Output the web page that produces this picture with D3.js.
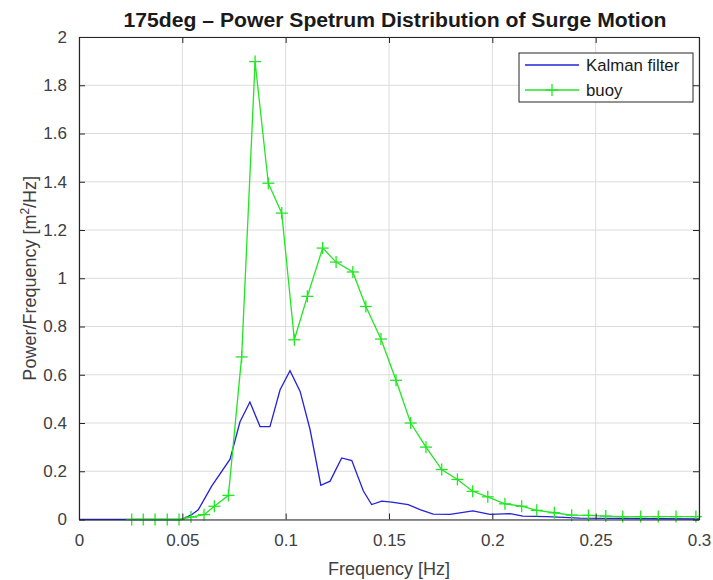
<!DOCTYPE html>
<html><head><meta charset="utf-8">
<script src="https://cdn.jsdelivr.net/npm/d3@7"></script>
<style>body{margin:0;background:#fff;} svg{display:block;}</style>
</head><body>
<svg id="chart" width="713" height="580"></svg>
<script>
const titleText = "175deg \u2013 Power Spetrum Distribution of Surge Motion";
const xTicks = [0, 0.05, 0.1, 0.15, 0.2, 0.25, 0.3];
const xTickLabels = ["0", "0.05", "0.1", "0.15", "0.2", "0.25", "0.3"];
const yTicks = [0, 0.2, 0.4, 0.6, 0.8, 1, 1.2, 1.4, 1.6, 1.8, 2];
const yTickLabels = ["0", "0.2", "0.4", "0.6", "0.8", "1", "1.2", "1.4", "1.6", "1.8", "2"];
const seriesNames = ["Kalman filter", "buoy"];

const kalmanFreq = [0, 0.0497, 0.0545, 0.0577, 0.0642, 0.0731, 0.0779, 0.0827, 0.0876, 0.0924, 0.0973, 0.1021, 0.107, 0.1118, 0.117, 0.1215, 0.1271, 0.132, 0.1376, 0.1416, 0.1465, 0.1513, 0.1593, 0.165, 0.1714, 0.1795, 0.1906, 0.1989, 0.2086, 0.2148, 0.2264, 0.2424, 0.3];
const kalmanVal = [0, 0, 0.02, 0.04, 0.138, 0.25, 0.405, 0.487, 0.385, 0.385, 0.538, 0.617, 0.531, 0.373, 0.142, 0.159, 0.255, 0.244, 0.118, 0.062, 0.076, 0.072, 0.062, 0.041, 0.022, 0.021, 0.036, 0.021, 0.024, 0.014, 0.012, 0.006, 0.002];

const buoyFreq = [0.0255, 0.0311, 0.0368, 0.0427, 0.0484, 0.0542, 0.0605, 0.0655, 0.0723, 0.0787, 0.0852, 0.0916, 0.0981, 0.1042, 0.1105, 0.1179, 0.1244, 0.1325, 0.1388, 0.1461, 0.1534, 0.1605, 0.1679, 0.1755, 0.1831, 0.1905, 0.1978, 0.2061, 0.2142, 0.2215, 0.23, 0.2384, 0.2465, 0.2549, 0.2631, 0.2718, 0.2803, 0.2889, 0.2985];
const buoyVal = [0, 0, 0, 0, 0, 0.01, 0.02, 0.055, 0.10, 0.674, 1.898, 1.394, 1.27, 0.745, 0.925, 1.125, 1.067, 1.026, 0.883, 0.748, 0.577, 0.40, 0.30, 0.207, 0.166, 0.117, 0.094, 0.065, 0.055, 0.038, 0.028, 0.018, 0.017, 0.014, 0.012, 0.012, 0.012, 0.012, 0.012];

const kalman = kalmanFreq.map((f, i) => [f, kalmanVal[i]]);
const buoy = buoyFreq.map((f, i) => [f, buoyVal[i]]);

const svg = d3.select("#chart");
const L = 79, R = 699, T = 37, B = 519.5;
const x = d3.scaleLinear().domain([0, 0.3]).range([L, R]);
const y = d3.scaleLinear().domain([0, 2]).range([B, T]);
const font = "Helvetica, Arial, 'Liberation Sans', sans-serif";
const axisColor = "#262626";
const textColor = "#404040";

// grid
const grid = svg.append("g");
grid.selectAll("line.gx").data(xTicks).enter().append("line")
  .attr("x1", d => x(d)).attr("x2", d => x(d)).attr("y1", T).attr("y2", B)
  .attr("stroke", "#dcdcdc").attr("stroke-width", 1);
grid.selectAll("line.gy").data(yTicks).enter().append("line")
  .attr("y1", d => y(d)).attr("y2", d => y(d)).attr("x1", L).attr("x2", R)
  .attr("stroke", "#dcdcdc").attr("stroke-width", 1);

// series
const line = d3.line().x(d => x(d[0])).y(d => y(d[1]));
svg.append("path").datum(kalman).attr("d", line)
  .attr("fill", "none").attr("stroke", "#2222d8").attr("stroke-width", 1.3);
svg.append("path").datum(buoy).attr("d", line)
  .attr("fill", "none").attr("stroke", "#22e622").attr("stroke-width", 1.3);
const ms = 6;
const mk = svg.append("g").attr("stroke", "#22e622").attr("stroke-width", 1.3);
buoy.forEach(d => {
  mk.append("line").attr("x1", x(d[0]) - ms).attr("x2", x(d[0]) + ms).attr("y1", y(d[1])).attr("y2", y(d[1]));
  mk.append("line").attr("x1", x(d[0])).attr("x2", x(d[0])).attr("y1", y(d[1]) - ms).attr("y2", y(d[1]) + ms);
});

// axes (ticks inside)
const tickLen = 6;
const xAxisB = d3.axisBottom(x).tickValues(xTicks).tickFormat((d, i) => xTickLabels[i]).tickSizeInner(-tickLen).tickSizeOuter(0).tickPadding(14);
const xAxisT = d3.axisTop(x).tickValues(xTicks).tickFormat("").tickSizeInner(-tickLen).tickSizeOuter(0);
const yAxisL = d3.axisLeft(y).tickValues(yTicks).tickFormat((d, i) => yTickLabels[i]).tickSizeInner(-tickLen).tickSizeOuter(0).tickPadding(12);
const yAxisR = d3.axisRight(y).tickValues(yTicks).tickFormat("").tickSizeInner(-tickLen).tickSizeOuter(0);
function style(g) {
  g.select(".domain").attr("stroke", axisColor).attr("stroke-width", 1.2);
  g.selectAll(".tick line").attr("stroke", axisColor).attr("stroke-width", 1);
  g.selectAll(".tick text").attr("fill", textColor).style("font-family", font).style("font-size", "17px");
}
svg.append("g").attr("transform", `translate(0,${B})`).call(xAxisB).call(style);
svg.append("g").attr("transform", `translate(0,${T})`).call(xAxisT).call(style);
svg.append("g").attr("transform", `translate(${L},0)`).call(yAxisL).call(style);
svg.append("g").attr("transform", `translate(${R},0)`).call(yAxisR).call(style);

// title & labels
svg.append("text").attr("x", 395).attr("y", 27).attr("text-anchor", "middle")
  .attr("textLength", 543).attr("lengthAdjust", "spacingAndGlyphs")
  .style("font-family", font).style("font-size", "20px").style("font-weight", "bold")
  .attr("fill", "#1a1a1a").text(titleText);
svg.append("text").attr("x", (L + R) / 2).attr("y", 575).attr("text-anchor", "middle")
  .style("font-family", font).style("font-size", "18px").attr("fill", textColor).text("Frequency [Hz]");
const yl = svg.append("text").attr("transform", `translate(36,${(T + B) / 2}) rotate(-90)`).attr("text-anchor", "middle")
  .style("font-family", font).style("font-size", "18px").attr("fill", textColor);
yl.append("tspan").text("Power/Frequency [m");
yl.append("tspan").attr("dy", -7).style("font-size", "12px").text("2");
yl.append("tspan").attr("dy", 7).text("/Hz]");

// legend
const lg = svg.append("g");
lg.append("rect").attr("x", 519).attr("y", 53).attr("width", 174).attr("height", 49)
  .attr("fill", "#fff").attr("stroke", axisColor).attr("stroke-width", 1);
const legY = [65, 90];
const legColors = ["#2222d8", "#22e622"];
seriesNames.forEach((n, i) => {
  lg.append("line").attr("x1", 525).attr("x2", 579).attr("y1", legY[i]).attr("y2", legY[i])
    .attr("stroke", legColors[i]).attr("stroke-width", 1.3);
  lg.append("text").attr("x", 586).attr("y", legY[i] + 6)
    .style("font-family", font).style("font-size", "16.8px").attr("fill", "#1a1a1a").text(n);
});
lg.append("line").attr("x1", 552).attr("x2", 552).attr("y1", legY[1] - ms).attr("y2", legY[1] + ms)
  .attr("stroke", legColors[1]).attr("stroke-width", 1.3);
lg.append("line").attr("x1", 552 - ms).attr("x2", 552 + ms).attr("y1", legY[1]).attr("y2", legY[1])
  .attr("stroke", legColors[1]).attr("stroke-width", 1.3);
</script>
</body></html>
